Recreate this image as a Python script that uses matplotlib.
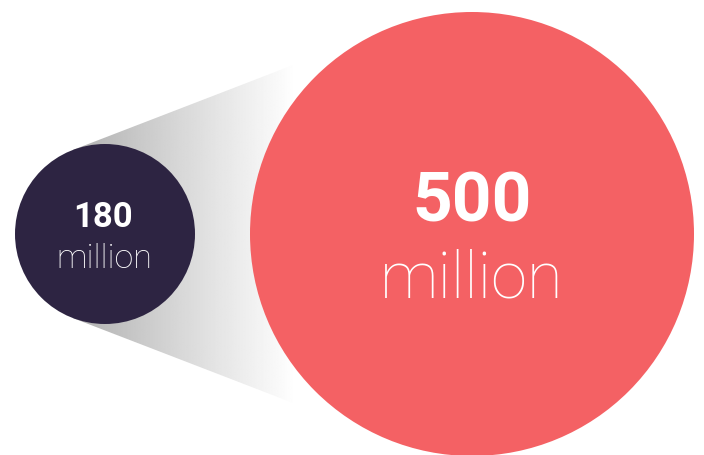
import numpy as np
import matplotlib.pyplot as plt
from matplotlib.patches import Circle, Polygon

# audience sizes, in millions
values = [180, 500]
unit_labels = ['million', 'million']

colors = ['#2d2442', '#f46164']
centers = [(105, 234), (472, 234)]
radii = [90, 222]

fig = plt.figure(figsize=(7.04, 4.55), dpi=100)
ax = fig.add_axes([0, 0, 1, 1])
ax.set_xlim(0, 704)
ax.set_ylim(455, 0)
ax.set_aspect('equal')
ax.axis('off')

# external tangent lines between the two circles -> cone polygon
(x1, y1), (x2, y2) = centers
r1, r2 = radii
d = x2 - x1
ang = np.arcsin((r2 - r1) / d)
theta = np.pi / 2 + ang
p1_top = (x1 + r1 * np.cos(theta), y1 - r1 * np.sin(theta))
p2_top = (x2 + r2 * np.cos(theta), y2 - r2 * np.sin(theta))
p1_bot = (p1_top[0], 2 * y1 - p1_top[1])
p2_bot = (p2_top[0], 2 * y2 - p2_top[1])
cone = Polygon([p1_top, p2_top, p2_bot, p1_bot], closed=True,
               facecolor='none', edgecolor='none')
ax.add_patch(cone)

# horizontal grey fade, clipped to the cone
xs = np.linspace(0, 1, 256)
shade = np.clip(0.68 + 0.32 * (xs / 0.85) ** 0.9, 0, 1)
grad = np.tile(shade, (2, 1))
img = ax.imshow(grad, cmap='gray', vmin=0, vmax=1, aspect='auto',
                extent=[p1_top[0], 335, 455, 0], interpolation='bilinear',
                zorder=1)
img.set_clip_path(cone)

for (cx, cy), r, c in zip(centers, radii, colors):
    ax.add_patch(Circle((cx, cy), r, facecolor=c, edgecolor='none', zorder=2))

# labels
ax.text(103, 227, str(values[0]), color='white', fontsize=25,
        family='Roboto', weight='bold', ha='center', va='baseline', zorder=3)
ax.text(104, 268, unit_labels[0], color='white', fontsize=24.5,
        family='Roboto', weight='light', ha='center', va='baseline', zorder=3)
ax.text(472, 221, str(values[1]), color='white', fontsize=50,
        family='Roboto', weight='bold', ha='center', va='baseline', zorder=3)
ax.text(472, 298, unit_labels[1], color='white', fontsize=47,
        family='Roboto', weight='light', ha='center', va='baseline', zorder=3)

fig.savefig('out.png', dpi=100, facecolor='white')
